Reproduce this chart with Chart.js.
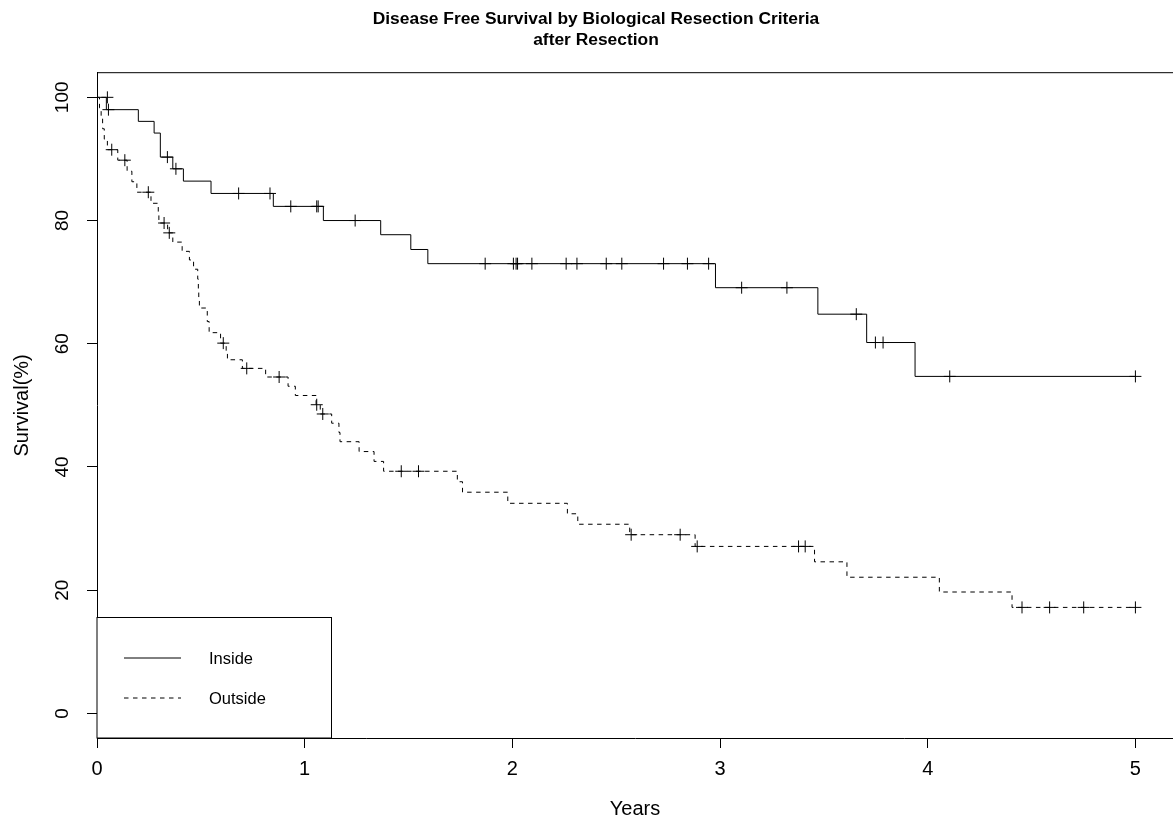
<!DOCTYPE html>
<html lang="en">
<head>
  <meta charset="UTF-8">
  <title>Disease Free Survival</title>
  <script src="https://cdn.jsdelivr.net/npm/chart.js"></script>
  <style>
    body { margin: 0; background: #fff; }
  </style>
</head>
<body>
  <canvas id="kmChart" width="1173" height="823"></canvas>

  <script>
    // Kaplan-Meier steps (time in years, survival %)
    const insideTimes = [0, 0.045, 0.199, 0.275, 0.305, 0.365, 0.416, 0.549, 0.849, 1.09, 1.366, 1.511, 1.593, 2.978, 3.471, 3.706, 3.939, 5.0];
    const insideSurv  = [100, 98.0, 96.1, 94.2, 90.3, 88.4, 86.4, 84.4, 82.3, 80.0, 77.7, 75.3, 73.0, 69.1, 64.8, 60.2, 54.7, 54.7];

    const insideCensorTimes = [0.05, 0.055, 0.339, 0.38, 0.682, 0.833, 0.933, 1.058, 1.065, 1.243,
      1.869, 2.005, 2.018, 2.025, 2.094, 2.259, 2.311, 2.452, 2.527, 2.728, 2.843, 2.945,
      3.104, 3.322, 3.656, 3.748, 3.785, 4.106, 5.0];
    const insideCensorSurv = [100, 98.0, 90.3, 88.4, 84.4, 84.4, 82.3, 82.3, 82.3, 80.0,
      73.0, 73.0, 73.0, 73.0, 73.0, 73.0, 73.0, 73.0, 73.0, 73.0, 73.0, 73.0,
      69.1, 69.1, 64.8, 60.2, 60.2, 54.7, 54.7];

    const outsideTimes = [0, 0.012, 0.02, 0.027, 0.035, 0.05, 0.1, 0.145, 0.168, 0.192,
      0.26, 0.295, 0.298, 0.34, 0.365, 0.41, 0.445, 0.465, 0.485, 0.488, 0.49, 0.493,
      0.531, 0.54, 0.595, 0.622, 0.628, 0.70, 0.812, 0.92, 0.955, 1.055, 1.075, 1.13,
      1.165, 1.17, 1.262, 1.334, 1.38, 1.735, 1.76, 1.978, 2.265, 2.315, 2.565, 2.88,
      3.455, 3.611, 4.056, 4.406, 5.0];
    const outsideSurv = [100, 98.3, 96.6, 94.9, 93.2, 91.5, 89.8, 88.0, 86.3, 84.6,
      82.8, 81.1, 79.6, 78.0, 76.5, 75.0, 73.6, 72.1, 70.5, 68.9, 67.4, 65.8,
      63.6, 61.8, 60.1, 58.8, 57.4, 56.0, 54.6, 53.1, 51.6, 50.1, 48.6, 47.1,
      45.6, 44.1, 42.5, 40.9, 39.3, 37.6, 35.9, 34.1, 32.4, 30.7, 29.0, 27.1,
      24.6, 22.1, 19.7, 17.2, 17.2];

    const outsideCensorTimes = [0.071, 0.134, 0.247, 0.323, 0.348, 0.608, 0.721, 0.877, 1.058, 1.087,
      1.465, 1.548, 2.572, 2.808, 2.89, 3.378, 3.41, 4.454, 4.587, 4.751, 5.0];
    const outsideCensorSurv = [91.5, 89.8, 84.6, 79.6, 78.0, 60.1, 56.0, 54.6, 50.1, 48.6,
      39.3, 39.3, 29.0, 29.0, 27.1, 27.1, 27.1, 17.2, 17.2, 17.2, 17.2];

    const groupNames = ["Inside", "Outside"];
    const xTicks = [0, 1, 2, 3, 4, 5];
    const yTicks = [0, 20, 40, 60, 80, 100];
    const titleLines = ["Disease Free Survival by Biological Resection Criteria", "after Resection"];

    const FONT = "'Liberation Sans', Arial, Helvetica, sans-serif";
    const DASH = [4.5, 4.5];

    const toPoints = (xs, ys) => xs.map((x, i) => ({ x: x, y: ys[i] }));

    const titlePlugin = {
      id: "rTitle",
      afterDraw(chart) {
        const ctx = chart.ctx;
        ctx.save();
        ctx.fillStyle = "#000";
        ctx.font = "bold 17.4px " + FONT;
        ctx.textAlign = "center";
        ctx.textBaseline = "middle";
        ctx.fillText(titleLines[0], 596, 19.5);
        ctx.fillText(titleLines[1], 596, 40.5);
        ctx.restore();
      }
    };

    // plot box top edge + legend box in the bottom-left corner
    const boxPlugin = {
      id: "boxLegend",
      afterDatasetsDraw(chart) {
        const ctx = chart.ctx;
        const a = chart.chartArea;
        ctx.save();
        ctx.strokeStyle = "#000";
        ctx.lineWidth = 1;
        ctx.beginPath();
        ctx.moveTo(a.left, a.top);
        ctx.lineTo(a.right, a.top);
        ctx.stroke();

        const lx = a.left, ly = a.bottom - 120.5, lw = 234.5, lh = 120.5;
        ctx.fillStyle = "#fff";
        ctx.fillRect(lx, ly, lw, lh);
        ctx.strokeRect(lx, ly, lw, lh);

        ctx.font = "16.5px " + FONT;
        ctx.fillStyle = "#000";
        ctx.textBaseline = "middle";
        groupNames.forEach((name, i) => {
          const y = a.bottom - 80 + i * 40;
          ctx.setLineDash(i === 0 ? [] : DASH);
          ctx.beginPath();
          ctx.moveTo(lx + 27, y);
          ctx.lineTo(lx + 84, y);
          ctx.stroke();
          ctx.fillText(name, lx + 112, y + 1);
        });
        ctx.restore();
      }
    };

    new Chart(document.getElementById("kmChart"), {
      type: "scatter",
      data: {
        datasets: [
          {
            label: groupNames[0],
            data: toPoints(insideTimes, insideSurv),
            showLine: true,
            stepped: true,
            borderColor: "#000",
            borderWidth: 1,
            pointRadius: 0
          },
          {
            label: groupNames[1],
            data: toPoints(outsideTimes, outsideSurv),
            showLine: true,
            stepped: true,
            borderColor: "#000",
            borderWidth: 1,
            borderDash: DASH,
            pointRadius: 0
          },
          {
            label: groupNames[0] + " censored",
            data: toPoints(insideCensorTimes, insideCensorSurv),
            showLine: false,
            pointStyle: "cross",
            pointRadius: 6,
            pointBorderWidth: 1,
            borderColor: "#000"
          },
          {
            label: groupNames[1] + " censored",
            data: toPoints(outsideCensorTimes, outsideCensorSurv),
            showLine: false,
            pointStyle: "cross",
            pointRadius: 6,
            pointBorderWidth: 1,
            borderColor: "#000"
          }
        ]
      },
      options: {
        responsive: false,
        animation: false,
        layout: { autoPadding: false, padding: { top: 72.7, left: 0, right: 0, bottom: 0 } },
        plugins: {
          legend: { display: false },
          tooltip: { enabled: false }
        },
        scales: {
          x: {
            type: "linear",
            min: 0,
            max: 5.181,
            afterBuildTicks: s => { s.ticks = xTicks.map(v => ({ value: v })); },
            afterFit: s => { s.height = 85; s.paddingLeft = 0; s.paddingRight = 0; },
            grid: { drawOnChartArea: false, tickLength: 10, color: "#000", tickColor: "#000" },
            border: { color: "#000", width: 1 },
            ticks: {
              color: "#000",
              padding: 9,
              maxRotation: 0,
              font: { family: FONT, size: 20 }
            },
            title: {
              display: true,
              text: "Years",
              color: "#000",
              font: { family: FONT, size: 20 },
              padding: { top: 0, bottom: 2 }
            }
          },
          y: {
            type: "linear",
            min: -4,
            max: 104,
            afterBuildTicks: s => { s.ticks = yTicks.map(v => ({ value: v })); },
            afterFit: s => { s.width = 97; s.paddingTop = 0; s.paddingBottom = 0; },
            grid: { drawOnChartArea: false, tickLength: 10, color: "#000", tickColor: "#000" },
            border: { color: "#000", width: 1 },
            ticks: {
              color: "#000",
              padding: 8,
              minRotation: 90,
              maxRotation: 90,
              crossAlign: "center",
              font: { family: FONT, size: 19 }
            },
            title: {
              display: true,
              text: "Survival(%)",
              color: "#000",
              font: { family: FONT, size: 20 },
              padding: { top: 10, bottom: 0 }
            }
          }
        }
      },
      plugins: [titlePlugin, boxPlugin]
    });
  </script>
</body>
</html>
